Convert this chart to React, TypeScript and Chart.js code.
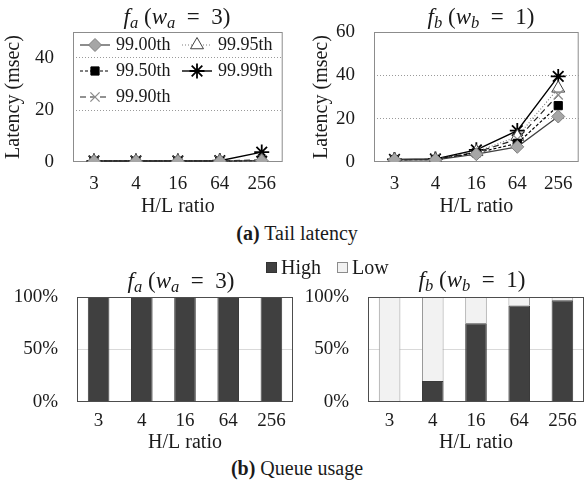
import React, { useEffect, useRef } from 'react';
import { Chart, registerables } from 'chart.js';
import { drawPoint } from 'chart.js/helpers';

Chart.register(...registerables);

// ---------------- data ----------------
const categories = ['3', '4', '16', '64', '256'];
const seriesNames = ['99.00th', '99.50th', '99.90th', '99.95th', '99.99th'];

// f_a (w_a = 3) tail latency, msec
const faP9900 = [0.3, 0.3, 0.3, 0.3, 0.5];
const faP9950 = [0.3, 0.3, 0.3, 0.3, 0.6];
const faP9990 = [0.3, 0.3, 0.3, 0.4, 0.8];
const faP9995 = [0.3, 0.3, 0.3, 0.4, 0.6];
const faP9999 = [0.4, 0.4, 0.4, 0.5, 3.8];

// f_b (w_b = 1) tail latency, msec
const fbP9900 = [1.0, 1.0, 3.6, 7.0, 21];
const fbP9950 = [1.0, 1.1, 4.2, 8.6, 26];
const fbP9990 = [1.1, 1.2, 4.5, 10.5, 31];
const fbP9995 = [1.1, 1.2, 4.7, 11.7, 34];
const fbP9999 = [1.2, 1.4, 5.6, 14.5, 39.5];

// queue usage, percent
const queueHighA = [100, 100, 100, 100, 100];
const queueLowA = [0, 0, 0, 0, 0];
const queueHighB = [0, 20, 75, 92, 97];
const queueLowB = [100, 80, 25, 8, 3];

const latencyYMaxA = 50;
const latencyYMaxB = 60;
const latencyStep = 20;
const queueStep = 50;

// ---------------- styles ----------------
const FONT = "'Liberation Serif', 'Times New Roman', serif";
const TEXT = '#1a1a1a';

const seriesStyles = [
  { pointStyle: 'rectRot', radius: 6.5, fill: '#a6a6a6', stroke: '#7f7f7f', pw: 1, line: '#404040', dash: [], width: 1.2 },
  { pointStyle: 'rect', radius: 5.8, fill: '#000000', stroke: '#000000', pw: 1, line: '#000000', dash: [3, 2], width: 1.2 },
  { pointStyle: 'crossRot', radius: 6.5, fill: '#a6a6a6', stroke: '#8c8c8c', pw: 1.3, line: '#262626', dash: [6, 4], width: 1.2 },
  { pointStyle: 'triangle', radius: 7.5, fill: '#ffffff', stroke: '#404040', pw: 1, line: '#7f7f7f', dash: [1, 2], width: 1.2 },
  { pointStyle: 'star', radius: 7.5, fill: '#000000', stroke: '#000000', pw: 1.8, line: '#000000', dash: [], width: 1.4 },
];

const makeFrame = (color: string, before: boolean) => {
  const draw = (chart: any) => {
    const { ctx, chartArea: a } = chart;
    ctx.save();
    ctx.strokeStyle = color;
    ctx.lineWidth = 1;
    ctx.setLineDash([]);
    ctx.strokeRect(a.left + 0.5, a.top + 0.5, a.right - a.left - 1, a.bottom - a.top - 1);
    ctx.restore();
  };
  return before
    ? { id: 'frame', beforeDatasetsDraw: draw }
    : { id: 'frame', afterDatasetsDraw: draw };
};

const innerLegend = {
  id: 'innerLegend',
  afterDatasetsDraw(chart: any) {
    const { ctx, chartArea: a } = chart;
    chart.data.datasets.forEach((ds: any, i: number) => {
      const col = Math.floor(i / 3);
      const row = i % 3;
      const x = a.left + 7 + col * 102;
      const y = a.top + 13 + row * 26;
      ctx.save();
      ctx.strokeStyle = ds.borderColor;
      ctx.lineWidth = ds.borderWidth;
      ctx.setLineDash(ds.borderDash || []);
      ctx.beginPath();
      ctx.moveTo(x, y);
      ctx.lineTo(x + 30, y);
      ctx.stroke();
      ctx.setLineDash([]);
      ctx.fillStyle = ds.pointBackgroundColor;
      ctx.strokeStyle = ds.pointBorderColor;
      ctx.lineWidth = ds.pointBorderWidth;
      drawPoint(ctx, { pointStyle: ds.pointStyle, radius: ds.pointRadius, rotation: 0, borderWidth: ds.pointBorderWidth } as any, x + 15, y);
      ctx.fillStyle = TEXT;
      ctx.font = `18px ${FONT}`;
      ctx.textBaseline = 'middle';
      ctx.textAlign = 'left';
      ctx.fillText(ds.label, x + 36, y);
      ctx.restore();
    });
  },
};

type LineProps = {
  left: number; top: number; width: number; height: number;
  values: number[][]; yMax: number; yAxisWidth: number; padTop: number; padRight: number;
  xAxisHeight: number; titlePad: number; legend: boolean;
};

function LatencyChart(p: LineProps) {
  const ref = useRef<HTMLCanvasElement>(null);
  useEffect(() => {
    const chart = new Chart(ref.current!, {
      type: 'line',
      data: {
        labels: categories,
        datasets: seriesNames.map((name, i) => {
          const st = seriesStyles[i];
          return {
            label: name,
            data: p.values[i],
            borderColor: st.line,
            borderDash: st.dash,
            borderWidth: st.width,
            pointStyle: st.pointStyle as any,
            pointRadius: st.radius,
            pointBackgroundColor: st.fill,
            pointBorderColor: st.stroke,
            pointBorderWidth: st.pw,
            fill: false,
            tension: 0,
          };
        }),
      },
      options: {
        animation: false,
        responsive: false,
        maintainAspectRatio: false,
        layout: { padding: { top: p.padTop, right: p.padRight, left: 0, bottom: 0 } },
        plugins: { legend: { display: false }, tooltip: { enabled: false } },
        scales: {
          x: {
            type: 'category',
            offset: true,
            grid: { display: false },
            border: { display: false },
            ticks: { color: TEXT, font: { family: FONT, size: 19 }, padding: 3, maxRotation: 0, autoSkip: false },
            title: { display: true, text: 'H/L ratio', color: TEXT, font: { family: FONT, size: 20 }, padding: 0 },
            afterFit: (s: any) => { s.height = p.xAxisHeight; },
          },
          y: {
            min: 0,
            max: p.yMax,
            ticks: { stepSize: latencyStep, includeBounds: false, color: TEXT, font: { family: FONT, size: 19 }, padding: 19 },
            grid: {
              drawTicks: false,
              lineWidth: 1,
              color: (c: any) => (c.tick && (c.tick.value === 0 || c.tick.value === p.yMax) ? 'rgba(0,0,0,0)' : '#9a9a9a'),
            },
            border: { display: false, dash: [1, 2] },
            title: { display: true, text: 'Latency (msec)', color: TEXT, font: { family: FONT, size: 20 }, padding: { top: p.titlePad, bottom: 0 } },
            afterFit: (s: any) => { s.width = p.yAxisWidth; },
          },
        },
      } as any,
      plugins: p.legend ? [makeFrame('#8c8c8c', true), innerLegend] : [makeFrame('#8c8c8c', true)],
    });
    return () => chart.destroy();
  }, []);
  return (
    <canvas ref={ref} width={p.width} height={p.height}
      style={{ position: 'absolute', left: p.left, top: p.top, width: p.width, height: p.height }} />
  );
}

type BarProps = {
  left: number; top: number; width: number; height: number;
  high: number[]; low: number[]; yAxisWidth: number; padTop: number; padRight: number; xAxisHeight: number;
};

function QueueChart(p: BarProps) {
  const ref = useRef<HTMLCanvasElement>(null);
  useEffect(() => {
    const chart = new Chart(ref.current!, {
      type: 'bar',
      data: {
        labels: categories,
        datasets: [
          {
            label: 'High', data: p.high, backgroundColor: '#404040', borderColor: '#3a3a3a',
            borderWidth: (c: any) => (c.raw === 0 ? 0 : 1), barPercentage: 0.5, categoryPercentage: 1,
          },
          {
            label: 'Low', data: p.low, backgroundColor: '#f2f2f2', borderColor: '#9a9a9a',
            borderWidth: (c: any) => (c.raw === 0 ? 0 : 1), barPercentage: 0.5, categoryPercentage: 1,
          },
        ],
      },
      options: {
        animation: false,
        responsive: false,
        maintainAspectRatio: false,
        layout: { padding: { top: p.padTop, right: p.padRight, left: 0, bottom: 0 } },
        plugins: { legend: { display: false }, tooltip: { enabled: false } },
        scales: {
          x: {
            stacked: true,
            grid: { display: false },
            border: { display: false },
            ticks: { color: TEXT, font: { family: FONT, size: 19 }, padding: 0, maxRotation: 0, autoSkip: false },
            title: { display: true, text: 'H/L ratio', color: TEXT, font: { family: FONT, size: 20 }, padding: 0 },
            afterFit: (s: any) => { s.height = p.xAxisHeight; },
          },
          y: {
            stacked: true,
            min: 0,
            max: 100,
            ticks: { stepSize: queueStep, color: TEXT, font: { family: FONT, size: 19 }, padding: 19, callback: (v: any) => v + '%' },
            grid: {
              drawTicks: false,
              lineWidth: 1,
              color: (c: any) => (c.tick && c.tick.value === 50 ? '#d9d9d9' : 'rgba(0,0,0,0)'),
            },
            border: { display: false },
            afterFit: (s: any) => { s.width = p.yAxisWidth; },
          },
        },
      } as any,
      plugins: [makeFrame('#4d4d4d', false)],
    });
    return () => chart.destroy();
  }, []);
  return (
    <canvas ref={ref} width={p.width} height={p.height}
      style={{ position: 'absolute', left: p.left, top: p.top, width: p.width, height: p.height }} />
  );
}

const subStyle: React.CSSProperties = { fontSize: '0.72em', verticalAlign: '-0.28em', lineHeight: 0 };

function Title({ x, y, f, w }: { x: number; y: number; f: string; w: string }) {
  const sub = f.slice(1);
  const val = w.split('=')[1];
  return (
    <div style={{
      position: 'absolute', left: x, top: y, transform: 'translate(-50%, -50%)',
      font: `23px ${FONT}`, color: TEXT, whiteSpace: 'nowrap', lineHeight: 1,
    }}>
      <i>f</i><sub style={subStyle}><i>{sub}</i></sub>{' ('}<i>w</i><sub style={subStyle}><i>{sub}</i></sub>{'\u2002=\u2002'}{val}{')'}
    </div>
  );
}

function Caption({ x, y, tag, text }: { x: number; y: number; tag: string; text: string }) {
  return (
    <div style={{
      position: 'absolute', left: x, top: y, transform: 'translate(-50%, -50%)',
      font: `20px ${FONT}`, color: TEXT, whiteSpace: 'nowrap', lineHeight: 1,
    }}>
      <b>{tag}</b> {text}
    </div>
  );
}

export default function App() {
  return (
    <div style={{ position: 'absolute', left: 0, top: 0, width: 584, height: 481, overflow: 'hidden', background: '#fff' }}>
      <LatencyChart left={0} top={0} width={292} height={219}
        values={[faP9900, faP9950, faP9990, faP9995, faP9999]} yMax={latencyYMaxA}
        yAxisWidth={73} padTop={32} padRight={7} xAxisHeight={57} titlePad={2} legend={true} />
      <LatencyChart left={292} top={0} width={296} height={219}
        values={[fbP9900, fbP9950, fbP9990, fbP9995, fbP9999]} yMax={latencyYMaxB}
        yAxisWidth={82} padTop={32} padRight={2} xAxisHeight={57} titlePad={18} legend={false} />
      <QueueChart left={0} top={250} width={300} height={205}
        high={queueHighA} low={queueLowA} yAxisWidth={77} padTop={47} padRight={7} xAxisHeight={53} />
      <QueueChart left={292} top={250} width={296} height={205}
        high={queueHighB} low={queueLowB} yAxisWidth={76} padTop={47} padRight={4} xAxisHeight={53} />

      <Title x={177} y={16} f="fa" w="wa=3" />
      <Title x={481} y={16} f="fb" w="wb=1" />
      <Title x={181} y={280} f="fa" w="wa=3" />
      <Title x={472} y={279} f="fb" w="wb=1" />

      <Caption x={297} y={233} tag="(a)" text="Tail latency" />
      <Caption x={297} y={468} tag="(b)" text="Queue usage" />

      <div style={{
        position: 'absolute', left: 266, top: 258, height: 18, display: 'flex', alignItems: 'center',
        font: `20px ${FONT}`, color: TEXT, whiteSpace: 'nowrap', lineHeight: 1,
      }}>
        <span style={{ display: 'inline-block', width: 9, height: 9, background: '#404040', border: '1px solid #333', marginRight: 4 }} />
        <span>High</span>
        <span style={{ display: 'inline-block', width: 9, height: 9, background: '#f2f2f2', border: '1px solid #8c8c8c', marginLeft: 16, marginRight: 4 }} />
        <span>Low</span>
      </div>
    </div>
  );
}
